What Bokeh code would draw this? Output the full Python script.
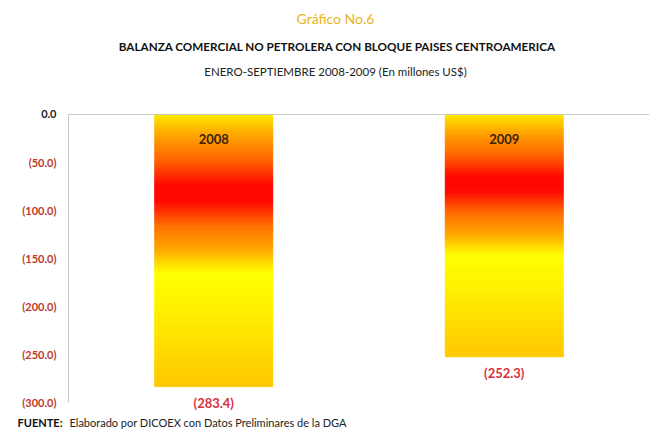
from bokeh.plotting import figure
from bokeh.models import ColumnDataSource, FixedTicker, Range1d, LinearAxis, Span
from bokeh.layouts import column
from bokeh.core.properties import value
from bokeh.embed import file_html
from bokeh.resources import INLINE

# ---- data ----
categories = ["2008", "2009"]
balance = [-283.4, -252.3]
value_labels = ["(283.4)", "(252.3)"]
y_ticks = [0, -50, -100, -150, -200, -250, -300]
y_tick_labels = ["0.0", "(50.0)", "(100.0)", "(150.0)", "(200.0)", "(250.0)", "(300.0)"]

title_top = "Gráfico No.6"
title_main = "BALANZA COMERCIAL NO PETROLERA CON BLOQUE PAISES CENTROAMERICA"
title_sub = "ENERO-SEPTIEMBRE 2008-2009 (En millones US$)"
source_bold = "FUENTE:"
source_text = "Elaborado por DICOEX con Datos Preliminares  de la DGA"

FONT = "Lato"
W = 649
FRAME_LEFT = 68

# gradient stops (fraction of bar length from the top, colour)
stops = [(0.00, (255, 236, 0)), (0.07, (255, 170, 0)), (0.17, (255, 100, 0)),
         (0.26, (255, 8, 0)), (0.32, (255, 8, 0)), (0.41, (255, 110, 0)),
         (0.50, (255, 170, 0)), (0.585, (255, 255, 0)), (0.72, (255, 240, 0)),
         (1.00, (255, 200, 0))]


def grad_color(t):
    for (t0, c0), (t1, c1) in zip(stops[:-1], stops[1:]):
        if t0 <= t <= t1:
            f = (t - t0) / (t1 - t0) if t1 > t0 else 0
            c = [round(a + (b - a) * f) for a, b in zip(c0, c1)]
            return "#%02x%02x%02x" % tuple(c)
    return "#%02x%02x%02x" % stops[-1][1]


def bare(fig):
    fig.grid.visible = False
    fig.outline_line_color = None
    fig.min_border = 0
    fig.min_border_left = FRAME_LEFT
    return fig


# ---- title block (frames of the column are aligned at x = 68) ----
TH = 104
tfig = bare(figure(width=W, height=TH, x_range=Range1d(FRAME_LEFT, W), y_range=Range1d(TH, 0),
                   x_axis_type=None, y_axis_type=None,
                   output_backend="svg", toolbar_location=None))
ttl = ColumnDataSource(dict(x=[335, 337, 335], y=[18, 45, 71], t=[title_top, title_main, title_sub],
                            size=["14px", "11.7px", "11.5px"], style=["normal", "bold", "normal"],
                            color=["#e8b41e", "#111111", "#222222"]))
tfig.text(x="x", y="y", text="t", source=ttl, text_align="center", text_baseline="middle",
          text_font=value(FONT), text_font_size="size", text_font_style="style", text_color="color")

# ---- main chart ----
N = 120
xs, tops, bottoms, cols = [], [], [], []
for cat, v in zip(categories, balance):
    for i in range(N):
        t0, t1 = i / N, (i + 1) / N
        xs.append(cat)
        tops.append(v * t0)
        bottoms.append(v * t1)
        cols.append(grad_color((t0 + t1) / 2))
strips = ColumnDataSource(dict(x=xs, top=tops, bottom=bottoms, color=cols))

MH = 311  # frame from page y 113 to 415 (0.96 px per unit)
p = figure(x_range=categories, y_range=Range1d(-313.5, 1.0),
           width=W, height=MH, output_backend="svg", toolbar_location=None,
           x_axis_location=None,
           min_border_left=FRAME_LEFT, min_border_right=0, min_border_top=9, min_border_bottom=0)
p.outline_line_color = None
p.grid.visible = False

p.vbar(x="x", top="top", bottom="bottom", width=0.406, color="color",
       line_color="color", line_width=1, source=strips)

p.add_layout(Span(location=y_ticks[0], dimension="width", line_color="#c8c8c8", line_width=1))

# red tick labels for the negative values
p.yaxis.bounds = (y_ticks[-1], y_ticks[0])
p.yaxis.ticker = FixedTicker(ticks=y_ticks[1:])
p.yaxis.major_label_overrides = dict(zip(y_ticks[1:], y_tick_labels[1:]))
p.yaxis.major_label_text_color = "#c0392b"
p.yaxis.major_label_text_font = FONT
p.yaxis.major_label_text_font_style = "bold"
p.yaxis.major_label_text_font_size = "11px"
p.yaxis.major_tick_line_color = None
p.yaxis.minor_tick_line_color = None
p.yaxis.major_tick_out = 0
p.yaxis.major_tick_in = 0
p.yaxis.axis_line_color = "#c8c8c8"
p.yaxis.major_label_standoff = 12

# black label for zero (outer axis pulled back onto the same column)
zero_axis = LinearAxis(ticker=FixedTicker(ticks=y_ticks[:1]),
                       major_label_overrides={y_ticks[0]: y_tick_labels[0]},
                       major_label_text_color="#222222", major_label_text_font=FONT,
                       major_label_text_font_style="bold", major_label_text_font_size="11px",
                       major_tick_line_color=None, minor_tick_line_color=None,
                       major_tick_out=0, major_tick_in=0,
                       axis_line_color=None, major_label_standoff=-37)
p.add_layout(zero_axis, "left")

lab = ColumnDataSource(dict(x=categories, y=[0] * len(categories), yb=balance,
                            t=categories, v=value_labels))
p.text(x="x", y="y", text="t", source=lab, y_offset=25, text_align="center",
       text_baseline="middle", text_font=value(FONT), text_font_style="bold",
       text_font_size="13px", text_color="#3a2208")
p.text(x="x", y="yb", text="v", source=lab, y_offset=16, text_align="center",
       text_baseline="middle", text_font=value(FONT), text_font_style="bold",
       text_font_size="13px", text_color="#d6303a")

# ---- footer ----
FH = 25
ffig = bare(figure(width=W, height=FH, x_range=Range1d(FRAME_LEFT, W), y_range=Range1d(FH, 0),
                   x_axis_type=None, output_backend="svg", toolbar_location=None))
ffig.yaxis.ticker = FixedTicker(ticks=[7])
ffig.yaxis.major_label_overrides = {7: source_bold}
ffig.yaxis.major_label_text_font = FONT
ffig.yaxis.major_label_text_font_style = "bold"
ffig.yaxis.major_label_text_font_size = "11px"
ffig.yaxis.major_label_text_color = "#111111"
ffig.yaxis.major_label_standoff = 6
ffig.yaxis.major_tick_out = 0
ffig.yaxis.major_tick_in = 0
ffig.yaxis.axis_line_color = None
ffig.yaxis.major_tick_line_color = None
ffig.yaxis.minor_tick_line_color = None
ftxt = ColumnDataSource(dict(x=[FRAME_LEFT + 1], y=[7], t=[source_text]))
ffig.text(x="x", y="y", text="t", source=ftxt, text_align="left", text_baseline="middle",
          text_font=value(FONT), text_font_size="11px", text_color="#222222")

layout = column(tfig, p, ffig, spacing=0)
open("out.html", "w").write(file_html(layout, INLINE))
